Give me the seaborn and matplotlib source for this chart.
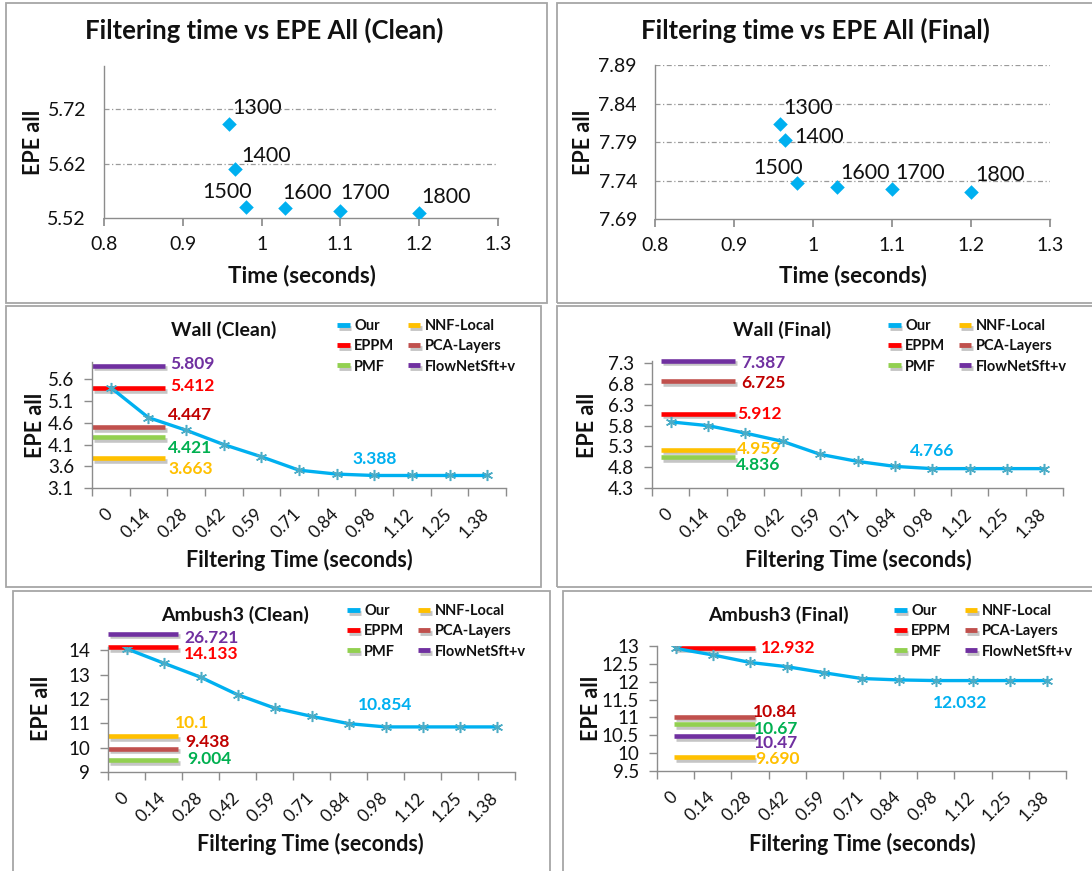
import numpy as np
import matplotlib
matplotlib.use("Agg")
import matplotlib.pyplot as plt
import matplotlib.patheffects as pe
from matplotlib.lines import Line2D
from matplotlib.patches import Rectangle
from matplotlib.transforms import ScaledTranslation
import seaborn as sns

# ---------------- data ----------------
filter_sizes = ["1300", "1400", "1500", "1600", "1700", "1800"]
clean_time = [0.959, 0.966, 0.98, 1.03, 1.10, 1.20]
clean_epe = [5.694, 5.610, 5.540, 5.538, 5.532, 5.530]
final_time = [0.958, 0.965, 0.98, 1.03, 1.10, 1.20]
final_epe = [7.813, 7.792, 7.737, 7.732, 7.729, 7.725]

time_ticks = [0.8, 0.9, 1.0, 1.1, 1.2, 1.3]
clean_yticks = [5.52, 5.62, 5.72]
final_yticks = [7.69, 7.74, 7.79, 7.84, 7.89]

filter_times = ["0", "0.14", "0.28", "0.42", "0.59", "0.71", "0.84", "0.98", "1.12", "1.25", "1.38"]
methods = ["EPPM", "PCA-Layers", "PMF", "NNF-Local", "FlowNetSft+v"]

wall_clean_our = [5.41, 4.72, 4.43, 4.10, 3.82, 3.51, 3.42, 3.388, 3.388, 3.388, 3.388]
wall_clean_ref = [5.40, 4.50, 4.27, 3.79, 5.91]
wall_clean_ref_text = ["5.412", "4.447", "4.421", "3.663", "5.809"]
wall_clean_yticks = [3.1, 3.6, 4.1, 4.6, 5.1, 5.6]

wall_final_our = [5.89, 5.80, 5.62, 5.42, 5.11, 4.94, 4.82, 4.766, 4.766, 4.766, 4.766]
wall_final_ref = [6.09, 6.87, 5.04, 5.22, 7.36]
wall_final_ref_text = ["5.912", "6.725", "4.836", "4.959", "7.387"]
wall_final_yticks = [4.3, 4.8, 5.3, 5.8, 6.3, 6.8, 7.3]

amb_clean_our = [14.07, 13.48, 12.90, 12.18, 11.63, 11.29, 10.99, 10.854, 10.854, 10.854, 10.854]
amb_clean_ref = [14.14, 9.96, 9.48, 10.47, 14.69]
amb_clean_ref_text = ["14.133", "9.438", "9.004", "10.1", "26.721"]
amb_clean_yticks = [9, 10, 11, 12, 13, 14]

amb_final_our = [12.932, 12.75, 12.54, 12.42, 12.25, 12.09, 12.05, 12.032, 12.032, 12.032, 12.032]
amb_final_ref = [12.95, 11.02, 10.81, 9.89, 10.47]
amb_final_ref_text = ["12.932", "10.84", "10.67", "9.690", "10.47"]
amb_final_yticks = [9.5, 10, 10.5, 11, 11.5, 12, 12.5, 13]

# ---------------- style ----------------
sns.set_theme(style="white")
plt.rcParams["font.family"] = ["Lato", "DejaVu Sans"]
TXT = "#111111"
GRID = "#9a9a9a"
SPINE = "#8c8c8c"
OUR = "#00B0F0"
line_col = {"EPPM": "#FF0000", "PCA-Layers": "#C0504D", "PMF": "#92D050",
            "NNF-Local": "#FFC000", "FlowNetSft+v": "#7030A0"}
text_col = {"EPPM": "#FF0000", "PCA-Layers": "#C00000", "PMF": "#00B050",
            "NNF-Local": "#FFC000", "FlowNetSft+v": "#7030A0"}

W, H = 1092, 871
fig = plt.figure(figsize=(W / 100, H / 100), dpi=100)


def add_ax(l, t, r, b):
    return fig.add_axes([l / W, 1 - b / H, (r - l) / W, (b - t) / H])


def ftext(x, y, s, **kw):
    fig.text(x / W, 1 - y / H, s, **kw)


def box(l, t, r, b):
    fig.add_artist(Rectangle((l / W, 1 - b / H), (r - l) / W, (b - t) / H,
                             transform=fig.transFigure, fill=False,
                             edgecolor="#a6a6a6", linewidth=1.3, zorder=0))


# panel frames
box(6, 3, 547, 303)
box(557, 3, 1097, 303)
box(6, 306, 541, 587)
box(557, 306, 1097, 587)
box(13, 591, 550, 880)
box(563, 591, 1097, 880)

shadow = [pe.SimpleLineShadow(offset=(1.2, -1.8), shadow_color="#808080", alpha=0.45), pe.Normal()]


def style_axes(ax):
    for s in ["top", "right"]:
        ax.spines[s].set_visible(False)
    for s in ["left", "bottom"]:
        ax.spines[s].set_color(SPINE)
        ax.spines[s].set_linewidth(1.0)
    ax.set_facecolor("none")


def scatter_panel(axbox, times, epe, yticks, ylim, title, title_xy, xlab_xy, ylab_xy, offsets):
    ax = add_ax(*axbox)
    sns.scatterplot(x=times, y=epe, marker="D", s=55, color=OUR, edgecolor=OUR,
                    linewidth=0, ax=ax, zorder=3, legend=False)
    ax.set_xlim(time_ticks[0], time_ticks[-1])
    ax.set_ylim(*ylim)
    ax.set_xticks(time_ticks)
    ax.set_xticklabels([f"{v:g}" for v in time_ticks])
    ax.set_yticks(yticks)
    ax.set_yticklabels([f"{v:.2f}" for v in yticks])
    for y in yticks[1:]:
        ax.axhline(y, color=GRID, lw=0.9, ls=(0, (4, 2, 1, 2)), zorder=0)
    style_axes(ax)
    ax.tick_params(axis="x", bottom=True, length=6, color=SPINE, pad=7, labelsize=14, labelcolor=TXT)
    ax.tick_params(axis="y", left=False, length=0, pad=13, labelsize=14, labelcolor=TXT)
    for lab, x, y, (dx, dy, ha) in zip(filter_sizes, times, epe, offsets):
        ax.annotate(lab, (x, y), xytext=(dx, -dy), textcoords="offset pixels",
                    ha=ha, va="center", fontsize=15.5, color=TXT)
    ax.set_xlabel("")
    ax.set_ylabel("")
    ftext(*title_xy, title, ha="center", va="center", fontsize=18.5, fontweight="bold", color=TXT)
    ftext(*xlab_xy, "Time (seconds)", ha="center", va="center", fontsize=16, fontweight="bold", color=TXT)
    ftext(*ylab_xy, "EPE all", ha="center", va="center", rotation=90, fontsize=15.5,
          fontweight="bold", color=TXT)
    return ax


scatter_panel((104, 66, 498, 218), clean_time, clean_epe, clean_yticks, (5.52, 5.80),
              "Filtering time vs EPE All (Clean)", (264, 30), (302, 276), (34, 142),
              [(3, -16, "left"), (6, -13, "left"), (6, -15, "right"), (-3, -15, "left"),
               (0, -18, "left"), (2, -16, "left")])
scatter_panel((655, 65, 1050, 219), final_time, final_epe, final_yticks, (7.69, 7.89),
              "Filtering time vs EPE All (Final)", (815, 30), (853, 276), (584, 142),
              [(3, -16, "left"), (9, -3, "left"), (6, -15, "right"), (4, -14, "left"),
               (3, -16, "left"), (4, -17, "left")])


def line_panel(axbox, our, ref, ref_text, yticks, ylim, ref_span, ref_offsets,
               our_offset, title, title_xy, legend_xy, xlab_xy, ylab_xy):
    ax = add_ax(*axbox)
    x0, x1 = ref_span
    for m, lvl, txt, (dx, dy) in zip(methods, ref, ref_text, ref_offsets):
        ax.plot([x0, x1], [lvl, lvl], color=line_col[m], lw=3.3, solid_capstyle="butt",
                clip_on=False, zorder=2, path_effects=shadow)
        ax.annotate(txt, (x1, lvl), xytext=(dx, -dy), textcoords="offset pixels",
                    ha="left", va="center", fontsize=12.5, fontweight="bold",
                    color=text_col[m], annotation_clip=False)
    xs = np.arange(len(filter_times))
    sns.lineplot(x=xs, y=our, color=OUR, lw=2.4, marker=(6, 2, 0), markersize=8,
                 markeredgecolor="#4BACC6", markeredgewidth=1.1, ax=ax, zorder=4)
    ax.annotate(f"{our[-1]:.3f}", (7, our[7]), xytext=(our_offset[0], -our_offset[1]),
                textcoords="offset pixels", ha="center", va="center", fontsize=12.5,
                fontweight="bold", color=OUR)
    ax.set_xlim(-0.5, len(filter_times) - 0.5)
    ax.set_ylim(*ylim)
    ax.set_xticks(xs)
    ax.set_xticklabels(filter_times, rotation=45, ha="right")
    ax.set_xticks(np.arange(-0.5, len(filter_times), 1.0), minor=True)
    ax.set_yticks(yticks)
    ax.set_yticklabels([f"{v:g}" for v in yticks])
    style_axes(ax)
    ax.tick_params(axis="x", which="major", bottom=True, length=0, pad=11, labelsize=12.5, labelcolor=TXT)
    ax.tick_params(axis="x", which="minor", bottom=True, length=6, color=SPINE, width=1)
    ax.tick_params(axis="y", left=True, length=6, color=SPINE, width=1, pad=7,
                   labelsize=13.5, labelcolor=TXT)
    shift = ScaledTranslation(5 / 100, -2 / 100, fig.dpi_scale_trans)
    for lab in ax.get_xticklabels():
        lab.set_transform(lab.get_transform() + shift)
    ax.set_xlabel("")
    ax.set_ylabel("")
    handles = []
    for name, c in [("Our", OUR), ("EPPM", line_col["EPPM"]), ("PMF", line_col["PMF"]),
                    ("NNF-Local", line_col["NNF-Local"]), ("PCA-Layers", line_col["PCA-Layers"]),
                    ("FlowNetSft+v", line_col["FlowNetSft+v"])]:
        handles.append(Line2D([0], [0], color=c, lw=3.5, solid_capstyle="butt", label=name,
                              path_effects=shadow))
    leg = ax.legend(handles=handles, ncol=2, loc="upper left",
                    bbox_to_anchor=(legend_xy[0] / W, 1 - legend_xy[1] / H),
                    bbox_transform=fig.transFigure, frameon=False, borderpad=0,
                    handlelength=0.85, handletextpad=0.3, columnspacing=0.95,
                    labelspacing=0.42, prop={"weight": "bold", "size": 10.5})
    for t in leg.get_texts():
        t.set_color(TXT)
    ftext(*title_xy, title, ha="center", va="center", fontsize=14, fontweight="bold", color=TXT)
    ftext(*xlab_xy, "Filtering Time (seconds)", ha="center", va="center", fontsize=15.5,
          fontweight="bold", color=TXT)
    ftext(*ylab_xy, "EPE all", ha="center", va="center", rotation=90, fontsize=15.5,
          fontweight="bold", color=TXT)
    return ax


line_panel((92, 362, 506, 488), wall_clean_our, wall_clean_ref, wall_clean_ref_text,
           wall_clean_yticks, (3.1, 6.0), (-0.5, 1.45),
           [(5, -2), (3, -12), (3, 11), (3, 11), (5, -2)], (0, -16),
           "Wall (Clean)", (224, 330), (330, 312), (299, 560), (36, 425))
line_panel((652, 361, 1063, 488), wall_final_our, wall_final_ref, wall_final_ref_text,
           wall_final_yticks, (4.3, 7.355), (-0.26, 1.72),
           [(2, 0), (6, 2), (1, 8), (2, -1), (6, 2)], (0, -18),
           "Wall (Final)", (782, 330), (881, 312), (858, 560), (587, 425))
line_panel((108, 647, 515, 772), amb_clean_our, amb_clean_ref, amb_clean_ref_text,
           amb_clean_yticks, (9, 14.14), (-0.5, 1.4),
           [(6, 7), (7, -7), (9, -1), (-3, -13), (6, 4)], (0, -22),
           "Ambush3 (Clean)", (235, 615), (340, 597), (310, 844), (42, 708))
line_panel((657, 646, 1066, 771), amb_final_our, amb_final_ref, amb_final_ref_text,
           amb_final_yticks, (9.5, 13), (-0.03, 2.13),
           [(6, 0), (-1.5, -5), (-0.5, 5), (0.5, 2), (-0.5, 7)], (24, 22),
           "Ambush3 (Final)", (778, 615), (887, 597), (862, 844), (591, 708))

fig.savefig("out.png", dpi=100)
